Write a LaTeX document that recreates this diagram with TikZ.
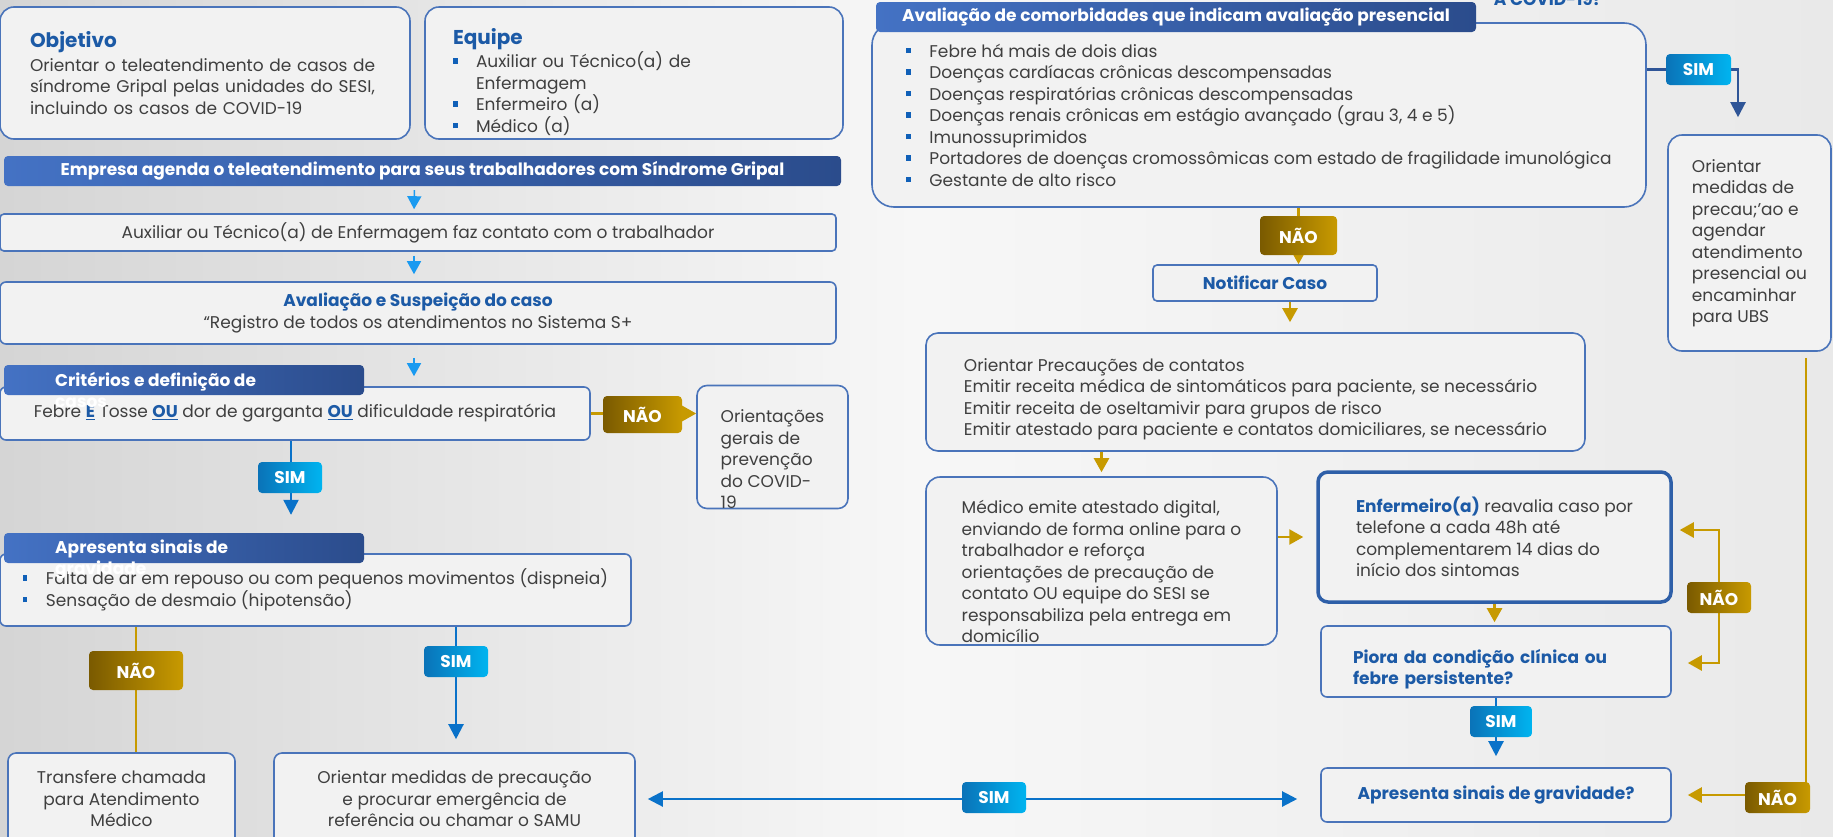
\documentclass[tikz,border=0pt]{standalone}
\usepackage{fontspec}
\setmainfont{Poppins}
\usetikzlibrary{arrows.meta, positioning, backgrounds}

\definecolor{bodytxt}{HTML}{3F3F3F}
\definecolor{titleblue}{HTML}{1C5AA6}
\definecolor{edgeblue}{HTML}{4A74BA}
\definecolor{edgedark}{HTML}{2E5FA8}
\definecolor{boxfill}{HTML}{F2F2F2}
\definecolor{barlight}{HTML}{4472C4}
\definecolor{bardark}{HTML}{2B4C8C}
\definecolor{simdark}{HTML}{0A73B8}
\definecolor{simlight}{HTML}{00B4F0}
\definecolor{naodark}{HTML}{7A5A00}
\definecolor{naolight}{HTML}{C89A00}
\definecolor{ouro}{HTML}{C79A00}
\definecolor{azul}{HTML}{0A72C9}
\definecolor{ceu}{HTML}{1A9AF0}
\definecolor{marinho}{HTML}{2F5597}
\definecolor{bulblue}{HTML}{1060B8}
\definecolor{bgleft}{HTML}{D5D5D5}
\definecolor{bgmid}{HTML}{F7F7F7}
\definecolor{bgright}{HTML}{E9E9E9}

\newcommand{\bodyfont}{\fontsize{17}{21.5}\selectfont}
\newcommand{\titlefont}{\fontsize{20}{24}\selectfont\bfseries}
\newcommand{\barfont}{\fontsize{17}{21}\selectfont\bfseries}
\newcommand{\tagfont}{\fontsize{17}{20}\selectfont\bfseries}
\newcommand{\sq}{\makebox[23pt][l]{\textcolor{bulblue}{\rule[4pt]{4.5pt}{5.5pt}}}}
\newcommand{\destaque}[1]{\textcolor{titleblue}{\bfseries #1}}
\newcommand{\sublinha}[1]{\textcolor{titleblue}{\underline{\bfseries #1}}}
\newcommand{\topo}[1]{\rule{0pt}{#1}}

\tikzset{
    card/.style={draw=edgeblue, fill=boxfill, line width=1.6pt, rounded corners=10pt, inner sep=0pt, align=left, font=\bodyfont, text=bodytxt},
    headbar/.style={left color=barlight, right color=bardark, rounded corners=4pt, inner sep=0pt, text=white, font=\barfont},
    headlabel/.style={inner sep=0pt, align=left, text=white, font=\barfont, anchor=north west},
    simtag/.style={left color=simdark, right color=simlight, rounded corners=4pt, inner sep=0pt, text=white, font=\tagfont, minimum width=64pt, minimum height=31pt},
    naotag/.style={left color=naodark, right color=naolight, rounded corners=4pt, inner sep=0pt, text=white, font=\tagfont, minimum width=64pt, minimum height=31pt},
    skyarrow/.style={draw=ceu, line width=1.5pt, -{Triangle[width=14pt,length=13pt]}},
    bluearrow/.style={draw=azul, line width=2.2pt, -{Triangle[width=15pt,length=15pt]}},
    navylink/.style={draw=marinho, line width=2.2pt},
    navyarrow/.style={navylink, -{Triangle[width=15pt,length=15pt]}},
    goldlink/.style={draw=ouro, line width=2.5pt},
    goldarrow/.style={goldlink, -{Triangle[width=15pt,length=14pt]}}
}

\begin{document}
\begin{tikzpicture}[x=1pt, y=-1pt]
        \useasboundingbox (0,0) rectangle (1833,836);

        % Lado esquerdo: apresentação e triagem
        \node (objetivo) [card, rounded corners=14pt, minimum width=410pt, minimum height=132pt, text width=350pt] at (205,73) {{\titlefont\textcolor{titleblue}{Objetivo}}\\[2pt]Orientar o teleatendimento de casos de\\síndrome Gripal pelas unidades do SESI,\\incluindo os casos de COVID-19};
        \node (equipe) [card, rounded corners=14pt, minimum width=418pt, minimum height=132pt, text width=362pt] at (634,73) {\topo{34pt}{\titlefont\textcolor{titleblue}{Equipe}}\\[2pt]\sq Auxiliar ou Técnico(a) de\\\hspace*{23pt}Enfermagem\\\sq Enfermeiro (a)\\\sq Médico (a)};

        \node (empresa) [headbar, minimum width=837pt, minimum height=30pt] at (422.5,171) {Empresa agenda o teleatendimento para seus trabalhadores com Síndrome Gripal};
        \node (contato) [card, rounded corners=4pt, minimum width=836pt, minimum height=37pt, align=center] at (418,232.5) {Auxiliar ou Técnico(a) de Enfermagem faz contato com o trabalhador};
        \node (avaliacao) [card, rounded corners=6pt, minimum width=836pt, minimum height=62pt, align=center] at (418,313) {\destaque{Avaliação e Suspeição do caso}\\“Registro de todos os atendimentos no Sistema S+};

        \node (criterios) [card, rounded corners=6pt, minimum width=590pt, minimum height=53pt] at (295,413.5) {Febre \sublinha{E} Tosse \sublinha{OU} dor de garganta \sublinha{OU} dificuldade respiratória};
        \node (criteriosbar) [headbar, minimum width=360pt, minimum height=30pt] at (184,380) {};
        \node (criterioslbl) [headlabel] at (55,372) {Critérios e definição de\\casos};
        \node (orientacoes) [card, minimum width=151pt, minimum height=120pt] at (772.5,447) {\topo{37pt}Orientações\\gerais de\\prevenção\\do COVID-\\19};

        \node (gravidade) [card, rounded corners=6pt, minimum width=631pt, minimum height=72pt] at (315.5,590) {\sq Falta de ar em repouso ou com pequenos movimentos (dispneia)\\\sq Sensação de desmaio (hipotensão)};
        \node (gravidadebar) [headbar, minimum width=360pt, minimum height=30pt] at (184,548) {};
        \node (gravidadelbl) [headlabel] at (55,540) {Apresenta sinais de\\gravidade};

        \node (transfere) [card, rounded corners=8pt, minimum width=227pt, minimum height=92pt, align=center] at (121.5,799) {Transfere chamada\\para Atendimento\\Médico};
        \node (emergencia) [card, rounded corners=8pt, minimum width=361pt, minimum height=92pt, align=center] at (454.5,799) {Orientar medidas de precaução\\e procurar emergência de\\referência ou chamar o SAMU};

        % Lado direito: comorbidades e acompanhamento
        \node (comorbidades) [card, rounded corners=22pt, minimum width=774pt, minimum height=184pt] at (1259,115) {\sq Febre há mais de dois dias\\\sq Doenças cardíacas crônicas descompensadas\\\sq Doenças respiratórias crônicas descompensadas\\\sq Doenças renais crônicas em estágio avançado (grau 3, 4 e 5)\\\sq Imunossuprimidos\\\sq Portadores de doenças cromossômicas com estado de fragilidade imunológica\\\sq Gestante de alto risco};
        \node (comorbidadesbar) [headbar, minimum width=600pt, minimum height=30pt] at (1176,17) {Avaliação de comorbidades que indicam avaliação presencial};
        \node (covidtopo) [font=\barfont, text=titleblue, anchor=base] at (1548,5) {A COVID-19?};

        \node (orientarubs) [card, rounded corners=14pt, minimum width=163pt, minimum height=216pt] at (1749.5,243) {Orientar\\medidas de\\precau;'ao e\\agendar\\atendimento\\presencial ou\\encaminhar\\para UBS};
        \node (notificar) [card, rounded corners=4pt, minimum width=224pt, minimum height=36pt, font=\bodyfont\bfseries, text=titleblue] at (1265,283) {Notificar Caso};
        \node (precaucoes) [card, rounded corners=12pt, minimum width=659pt, minimum height=118pt] at (1255.5,392) {\topo{27pt}Orientar Precauções de contatos\\Emitir receita médica de sintomáticos para paciente, se necessário\\Emitir receita de oseltamivir para grupos de risco\\Emitir atestado para paciente e contatos domiciliares, se necessário};
        \node (medico) [card, rounded corners=14pt, minimum width=351pt, minimum height=168pt] at (1101.5,561) {\topo{35pt}Médico emite atestado digital,\\enviando de forma online para o\\trabalhador e reforça\\orientações de precaução de\\contato OU equipe do SESI se\\responsabiliza pela entrega em\\domicílio};
        \node (enfermeiro) [card, draw=edgedark, line width=3.5pt, rounded corners=10pt, minimum width=353pt, minimum height=130pt] at (1494.5,537) {\destaque{Enfermeiro(a)} reavalia caso por\\telefone a cada 48h até\\complementarem 14 dias do\\início dos sintomas};
        \node (piora) [card, rounded corners=6pt, minimum width=350pt, minimum height=71pt, text width=286pt, font=\bodyfont\bfseries, text=titleblue] at (1496,661.5) {\topo{29pt}Piora da condição clínica ou\\febre persistente?};
        \node (sinais) [card, rounded corners=6pt, minimum width=350pt, minimum height=54pt, font=\bodyfont\bfseries, text=titleblue] at (1496,795) {Apresenta sinais de gravidade?};

        % Rótulos SIM / NÃO
        \node (naocriterios) [naotag, minimum width=79pt, minimum height=37pt] at (642.5,414.5) {NÃO};
        \node (simcriterios) [simtag] at (290,477.5) {SIM};
        \node (naogravidade) [naotag, minimum width=94pt, minimum height=39pt] at (136,670.5) {NÃO};
        \node (simgravidade) [simtag] at (456,661.5) {SIM};
        \node (simsinais) [simtag] at (994,797.5) {SIM};
        \node (naocomorb) [naotag, minimum width=77pt, minimum height=39pt] at (1298.5,235.5) {NÃO};
        \node (simcomorb) [simtag, minimum width=65pt] at (1698.5,69.5) {SIM};
        \node (simpiora) [simtag, minimum width=62pt] at (1501,721.5) {SIM};
        \node (naopiora) [naotag] at (1719,597.5) {NÃO};
        \node (naosinais) [naotag, minimum width=65pt] at (1777.5,797.5) {NÃO};

        \begin{scope}[on background layer]
            \shade[left color=bgleft, right color=bgright, middle color=bgmid] (0,0) rectangle (1833,836);

            % Conexões
            \draw [skyarrow, shorten <=4pt, shorten >=4pt] ([xshift=-8pt]empresa.south) -- ([xshift=-4pt]contato.north);
            \draw [skyarrow, shorten <=4pt, shorten >=7pt] ([xshift=-4pt]contato.south) -- ([xshift=-4pt]avaliacao.north);
            \draw [skyarrow, shorten <=13pt, shorten >=10pt] ([xshift=-4pt]avaliacao.south) -- ([xshift=-4pt]avaliacao.south |- criterios.north);
            \draw [goldarrow] (criterios.east) -- (criterios.east -| orientacoes.west);
            \draw [bluearrow, shorten >=18pt] ([xshift=-4pt]criterios.south) -- ([xshift=-4pt]criterios.south |- gravidadebar.north);
            \draw [goldlink] (gravidade.south -| naogravidade) -- (transfere.north -| naogravidade);
            \draw [bluearrow, shorten >=13pt] (gravidade.south -| simgravidade) -- (emergencia.north -| simgravidade);
            \draw [bluearrow, {Triangle[width=15pt,length=15pt]}-{Triangle[width=15pt,length=15pt]}, shorten <=12pt, shorten >=23pt] (emergencia.east) -- (emergencia.east -| sinais.west);

            \draw [goldarrow] (comorbidades.south -| naocomorb) -- (notificar.north -| naocomorb);
            \draw [navylink] (comorbidades.east |- simcomorb) -- (simcomorb.west);
            \draw [navyarrow] (simcomorb.east) -| ([xshift=-11.5pt, yshift=17pt]orientarubs.north);
            \draw [goldarrow, shorten >=10pt] ([xshift=25pt]notificar.south) -- ([xshift=25pt]notificar.south |- precaucoes.north);
            \draw [goldarrow, shorten >=4pt] (precaucoes.south -| medico) -- (medico.north);
            \draw [goldarrow, shorten >=13pt] (enfermeiro.west -| medico.east) -- (enfermeiro.west);
            \draw [goldarrow, shorten >=3pt] (enfermeiro.south) -- (enfermeiro.south |- piora.north);
            \draw [bluearrow, shorten >=11pt] (piora.south) -- (piora.south |- sinais.north);
            \draw [goldarrow, {Triangle[width=15pt,length=14pt]}-{Triangle[width=15pt,length=14pt]}] ([xshift=7pt, yshift=7pt]enfermeiro.east) -| (naopiora.center) |- ([xshift=16pt, yshift=-1.5pt]piora.east);
            \draw [goldarrow] ([xshift=56.5pt, yshift=-6pt]orientarubs.south) |- ([xshift=16pt]sinais.east);
        \end{scope}

    \end{tikzpicture}
\end{document}
